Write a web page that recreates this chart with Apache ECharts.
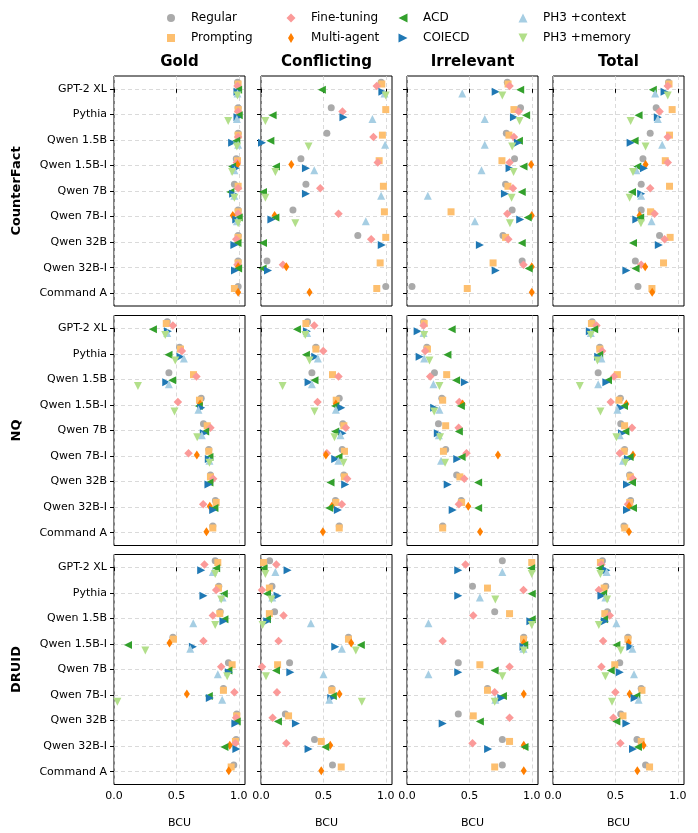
<!DOCTYPE html>
<html><head><meta charset="utf-8">
<script src="https://cdn.jsdelivr.net/npm/echarts@6/dist/echarts.min.js"></script>
<style>html,body{margin:0;padding:0;background:#fff}#c{width:698px;height:833px}</style>
</head><body><div id="c"></div>
<script>
// ---------- DATA ----------
const models = ['GPT-2 XL','Pythia','Qwen 1.5B','Qwen 1.5B-I','Qwen 7B','Qwen 7B-I','Qwen 32B','Qwen 32B-I','Command A'];
const methods = ['Regular','Prompting','Fine-tuning','Multi-agent','ACD','COIECD','PH3 +context','PH3 +memory'];
const datasets = ['CounterFact','NQ','DRUID'];
const settings = ['Gold','Conflicting','Irrelevant','Total'];
const xTicks = [0, 0.5, 1.0];
const _ = null;
// each row = one method (order as in `methods`), each column = one model (order as in `models`)
const cfGold = [
  [0.99,0.995,0.995,0.98,0.965,0.995,0.995,0.995,0.995],
  [0.995,0.995,0.995,0.99,0.995,0.995,0.995,0.995,0.965],
  [0.99,0.995,0.995,0.985,0.995,0.995,0.98,0.99,_],
  [_,_,_,0.99,_,0.952,_,0.995,0.995],
  [0.995,1.0,0.98,0.947,0.933,1.0,0.99,0.995,_],
  [0.99,0.99,0.947,0.975,0.955,0.98,0.965,0.97,_],
  [0.99,0.985,0.995,0.965,0.965,0.985,_,_,_],
  [0.99,0.915,0.985,0.947,0.965,0.995,_,_,_]
];
const cfConflicting = [
  [0.963,0.563,0.528,0.32,0.36,0.256,0.776,0.048,1.0],
  [0.968,1.0,0.973,0.947,0.981,0.989,1.0,0.955,0.928],
  [0.928,0.653,0.901,0.936,0.475,0.621,0.883,0.176,_],
  [_,_,_,0.243,_,0.109,_,0.203,0.389],
  [0.488,0.093,0.075,0.12,0.016,0.115,0.016,0.013,_],
  [0.973,0.661,0.008,0.36,0.36,0.083,0.968,0.056,_],
  [0.99,0.893,0.995,0.427,0.963,0.84,_,_,_],
  [1.0,0.035,0.381,0.115,0.035,0.275,_,_,_]
];
const cfIrrelevant = [
  [0.804,0.91,0.796,0.862,0.79,0.843,0.769,0.923,0.04],
  [0.81,0.857,0.817,0.761,0.809,0.353,0.79,0.69,0.483],
  [0.822,0.894,0.857,0.822,0.849,0.804,0.812,0.934,_],
  [_,_,_,0.995,_,1.0,_,1.0,1.0],
  [0.907,0.955,0.897,0.934,0.92,0.968,0.92,0.976,_],
  [0.711,0.857,0.889,0.822,0.785,0.907,0.584,0.711,_],
  [0.443,0.623,0.623,0.597,0.167,0.544,_,_,_],
  [0.764,0.902,0.843,0.854,0.838,0.825,_,_,_]
];
const cfTotal = [
  [0.926,0.827,0.779,0.721,0.707,0.707,0.854,0.66,0.681],
  [0.93,0.955,0.934,0.9,0.934,0.782,0.939,0.886,0.793],
  [0.92,0.854,0.92,0.92,0.779,0.814,0.894,0.707,_],
  [_,_,_,0.742,_,0.694,_,0.739,0.795],
  [0.8,0.686,0.654,0.676,0.633,0.699,0.641,0.662,_],
  [0.894,0.84,0.622,0.729,0.707,0.668,0.848,0.588,_],
  [0.819,0.84,0.875,0.668,0.707,0.79,_,_,_],
  [0.92,0.622,0.742,0.641,0.614,0.705,_,_,_]
];
const nqGold = [
  [0.427,0.525,0.44,0.699,0.717,0.76,0.773,0.813,0.792],
  [0.419,0.533,0.637,0.685,0.747,0.76,0.773,0.819,0.792],
  [0.472,0.544,0.661,0.512,0.773,0.597,0.795,0.715,_],
  [_,_,_,0.69,_,0.664,_,0.768,0.741],
  [0.312,0.437,0.467,0.68,0.731,0.765,0.765,0.805,_],
  [0.432,0.533,0.419,0.699,0.72,0.76,0.757,0.795,_],
  [0.427,0.56,0.44,0.677,0.704,0.765,_,_,_],
  [0.411,0.491,0.192,0.485,0.667,0.765,_,_,_]
];
const nqConflicting = [
  [0.373,0.44,0.408,0.627,0.656,0.651,0.664,0.597,0.627],
  [0.36,0.44,0.573,0.603,0.664,0.669,0.669,0.6,0.627],
  [0.427,0.499,0.621,0.453,0.68,0.528,0.691,0.648,_],
  [_,_,_,0.6,_,0.52,_,0.568,0.496],
  [0.288,0.36,0.429,0.595,0.595,0.621,0.557,0.547,_],
  [0.368,0.435,0.381,0.643,0.653,0.595,0.675,0.616,_],
  [0.37,0.456,0.408,0.6,0.637,0.62,_,_,_],
  [0.355,0.389,0.173,0.429,0.589,0.661,_,_,_]
];
const nqIrrelevant = [
  [0.133,0.159,0.22,0.279,0.252,0.31,0.398,0.435,0.286],
  [0.138,0.164,0.318,0.286,0.31,0.292,0.424,0.438,0.286],
  [0.133,0.146,0.186,0.419,0.414,0.477,0.459,0.416,_],
  [_,_,_,0.446,_,0.729,_,0.491,0.586],
  [0.358,0.324,0.393,0.432,0.416,0.438,0.57,0.57,_],
  [0.085,0.101,0.464,0.218,0.247,0.403,0.326,0.366,_],
  [0.133,0.138,0.212,0.26,0.255,0.273,_,_,_],
  [0.138,0.18,0.26,0.218,0.265,0.305,_,_,_]
];
const nqTotal = [
  [0.314,0.375,0.362,0.54,0.543,0.574,0.614,0.622,0.569],
  [0.308,0.375,0.516,0.529,0.574,0.57,0.62,0.615,0.575],
  [0.348,0.394,0.489,0.463,0.633,0.535,0.641,0.601,_],
  [_,_,_,0.588,_,0.641,_,0.61,0.609],
  [0.33,0.37,0.441,0.569,0.58,0.614,0.633,0.641,_],
  [0.295,0.362,0.428,0.543,0.553,0.601,0.593,0.593,_],
  [0.303,0.388,0.362,0.516,0.535,0.561,_,_,_],
  [0.303,0.356,0.215,0.38,0.508,0.58,_,_,_]
];
const druidGold = [
  [0.811,0.84,0.851,0.472,0.917,0.877,0.984,0.979,0.96],
  [0.832,0.837,0.848,0.477,0.947,0.877,0.984,0.973,0.939],
  [0.725,0.819,0.792,0.717,0.859,0.965,0.979,0.973,_],
  [_,_,_,0.445,_,0.584,_,0.928,0.92],
  [0.819,0.88,0.885,0.112,0.917,0.76,0.984,0.885,_],
  [0.699,0.717,0.877,0.632,0.92,0.768,0.973,0.981,_],
  [0.792,0.87,0.635,0.611,0.832,0.867,_,_,_],
  [0.811,0.859,0.811,0.251,0.907,0.027,_,_,_]
];
const druidConflicting = [
  [0.069,0.088,0.109,0.701,0.229,0.568,0.195,0.429,0.573],
  [0.021,0.067,0.067,0.701,0.133,0.568,0.221,0.483,0.643],
  [0.123,0.008,0.181,0.141,0.008,0.128,0.093,0.203,_],
  [_,_,_,0.723,_,0.629,_,0.555,0.483],
  [0.021,0.048,0.048,0.8,0.12,0.576,0.136,0.515,_],
  [0.213,0.133,0.05,0.595,0.235,0.563,0.28,0.381,_],
  [0.115,0.09,0.4,0.648,0.501,0.547,_,_,_],
  [0.035,0.083,0.013,0.76,0.04,0.808,_,_,_]
];
const druidIrrelevant = [
  [0.764,0.525,0.703,0.936,0.411,0.645,0.411,0.764,0.764],
  [1.0,0.645,0.822,0.934,0.584,0.645,0.531,0.822,0.703],
  [0.469,0.934,0.531,0.286,0.822,0.703,0.822,0.525,_],
  [_,_,_,0.936,_,0.936,_,0.936,0.936],
  [0.995,1.0,1.0,0.94,0.703,0.769,0.584,0.942,_],
  [0.411,0.411,0.989,0.934,0.411,0.756,0.286,0.65,_],
  [0.764,0.584,0.172,0.934,0.172,0.708,_,_,_],
  [1.0,0.708,1.0,0.936,0.764,0.703,_,_,_]
];
const druidTotal = [
  [0.396,0.423,0.436,0.601,0.535,0.707,0.543,0.673,0.742],
  [0.38,0.41,0.415,0.601,0.495,0.713,0.561,0.707,0.774],
  [0.388,0.367,0.455,0.402,0.388,0.5,0.484,0.54,_],
  [_,_,_,0.606,_,0.614,_,0.726,0.676],
  [0.375,0.402,0.41,0.508,0.463,0.668,0.508,0.681,_],
  [0.428,0.388,0.415,0.62,0.535,0.654,0.588,0.641,_],
  [0.43,0.42,0.508,0.636,0.649,0.686,_,_,_],
  [0.38,0.434,0.367,0.543,0.42,0.473,_,_,_]
];

// ---------- STYLE ----------
const FONT = 'DejaVu Sans';
const colors = ['#aaaaaa','#fdbf6f','#fb9a99','#ff7f00','#33a02c','#1f78b4','#a6cee3','#b2df8a'];
const symbols = ['circle','rect','diamond','diamond','triangle','triangle','triangle','triangle'];
const symSizes = [7,7,[8.5,8.5],[6,9],8,8,8,8];
const legendSizes = [[8,8],[8,8],[9,9],[6,10],[9,9],[9,9],[9,9],[9,9]];
const symRot = [0,0,0,0,90,-90,0,180];
const offsets = methods.map((m,i)=> -0.26 + i*0.52/7);

const panels = [
  [cfGold, cfConflicting, cfIrrelevant, cfTotal],
  [nqGold, nqConflicting, nqIrrelevant, nqTotal],
  [druidGold, druidConflicting, druidIrrelevant, druidTotal]
];
const colLeft = [114, 261, 407, 553], colW = 131;
const rowTop = [76, 315.5, 554.5], rowH = 230;
const yTicks = models.map((m,i)=>i);

const grids=[], xAxes=[], yAxes=[], series=[];
const splitStyle = {color:'#d0d0d0', width:0.8, type:[4,3]};
for (let r=0;r<3;r++) for (let c=0;c<4;c++) {
  const idx = r*4+c;
  grids.push({left:colLeft[c], top:rowTop[r], width:colW, height:rowH, show:true,
    borderColor:'#000', borderWidth:1, backgroundColor:'rgba(0,0,0,0)', containLabel:false, outerBoundsMode:'none'});
  xAxes.push({gridIndex:idx, type:'value', min:0, max:1.05,
    axisLine:{show:false},
    axisTick:{show:true, length:4, customValues:xTicks, lineStyle:{color:'#000', width:1}},
    axisLabel:{show:r===2, customValues:xTicks, formatter:v=>v.toFixed(1), color:'#000', fontSize:11, fontFamily:FONT, margin:6},
    splitLine:{show:true, lineStyle:splitStyle},
    name: r===2 ? 'BCU' : '', nameLocation:'middle', nameGap:33,
    nameTextStyle:{color:'#000', fontSize:11, fontFamily:FONT}
  });
  yAxes.push({gridIndex:idx, type:'value', min:-0.5, max:8.5, inverse:true,
    axisLine:{show:false},
    axisTick:{show:true, length:4, customValues:yTicks, lineStyle:{color:'#000', width:1}},
    axisLabel:{show:c===0, customValues:yTicks, formatter:v=>models[Math.round(v)], color:'#000', fontSize:11, fontFamily:FONT, margin:7},
    splitLine:{show:true, lineStyle:splitStyle}
  });
  const tbl = panels[r][c];
  methods.forEach((m,i)=>{
    const data = [];
    tbl[i].forEach((v,k)=>{ if (v!==null) data.push([v, k+offsets[i]]); });
    series.push({type:'scatter', name:m, xAxisIndex:idx, yAxisIndex:idx, data,
      symbol:symbols[i], symbolSize:symSizes[i], symbolRotate:symRot[i],
      itemStyle:{color:colors[i], opacity:1}, emphasis:{disabled:true}, silent:true, z:2+i*0.01});
  });
}

// legend: 4 columns x 2 rows, drawn as graphic markers + text (keeps marker aspect)
const legendCols = [[0,1],[2,3],[4,5],[6,7]];
const legendX = [171, 291, 403, 523];
const legendY = [18, 38];
const graphics = [];
legendCols.forEach((pair,j)=>pair.forEach((i,k)=>{
  const [w,h] = legendSizes[i];
  let shape;
  const cx = legendX[j], cy = legendY[k];
  if (symbols[i]==='circle') {
    graphics.push({type:'circle', shape:{cx, cy, r:w/2}, style:{fill:colors[i]}});
  } else if (symbols[i]==='rect') {
    graphics.push({type:'rect', shape:{x:cx-w/2, y:cy-h/2, width:w, height:h}, style:{fill:colors[i]}});
  } else if (symbols[i]==='diamond') {
    graphics.push({type:'polygon', shape:{points:[[cx,cy-h/2],[cx+w/2,cy],[cx,cy+h/2],[cx-w/2,cy]]}, style:{fill:colors[i]}});
  } else {
    const rot = symRot[i];
    let pts;
    if (rot===0) pts=[[cx,cy-h/2],[cx+w/2,cy+h/2],[cx-w/2,cy+h/2]];
    else if (rot===180) pts=[[cx,cy+h/2],[cx+w/2,cy-h/2],[cx-w/2,cy-h/2]];
    else if (rot===90) pts=[[cx-w/2,cy],[cx+w/2,cy-h/2],[cx+w/2,cy+h/2]];
    else pts=[[cx+w/2,cy],[cx-w/2,cy-h/2],[cx-w/2,cy+h/2]];
    graphics.push({type:'polygon', shape:{points:pts}, style:{fill:colors[i]}});
  }
  graphics.push({type:'text', x:cx+20, y:cy, style:{text:methods[i], fill:'#000', font:'12px "DejaVu Sans"', textAlign:'left', textVerticalAlign:'middle'}});
}));

settings.forEach((s,c)=>graphics.push({type:'text', x:colLeft[c]+colW/2, y:62,
  style:{text:s, fill:'#000', font:'bold 15px "DejaVu Sans"', textAlign:'center', textVerticalAlign:'middle'}}));
datasets.forEach((d,r)=>graphics.push({type:'text', x:17, y:rowTop[r]+rowH/2, rotation:Math.PI/2,
  style:{text:d, fill:'#000', font:'bold 13px "DejaVu Sans"', textAlign:'center', textVerticalAlign:'middle'}}));

const chart = echarts.init(document.getElementById('c'), null, {renderer:'canvas'});
chart.setOption({
  animation:false, backgroundColor:'#fff',
  grid:grids, xAxis:xAxes, yAxis:yAxes, series, graphic:graphics
});
</script></body></html>
